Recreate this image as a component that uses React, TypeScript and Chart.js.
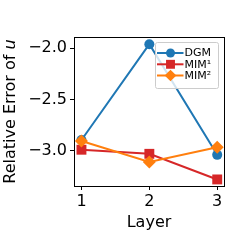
import React, { useEffect, useRef } from "react";
import { Chart, registerables } from "chart.js";

Chart.register(...registerables);

const layers = [1, 2, 3];
const dgm = [-2.895, -1.96, -3.04];
const mim1 = [-2.99, -3.03, -3.28];
const mim2 = [-2.905, -3.11, -2.965];
const yTicks = [-3.0, -2.5, -2.0];
const seriesNames = ["DGM", "MIM\u00b9", "MIM\u00b2"];
const colors = ["#1f77b4", "#d62728", "#ff7f0e"];
const pointStyles = ["circle", "rect", "rectRot"];
const radii = [5, 7, 6.5];

const FONT = "'DejaVu Sans', sans-serif";

function drawMarker(ctx: CanvasRenderingContext2D, style: string, r: number, x: number, y: number) {
  ctx.beginPath();
  if (style === "circle") {
    ctx.arc(x, y, r, 0, Math.PI * 2);
  } else if (style === "rect") {
    const s = r * Math.SQRT1_2;
    ctx.rect(x - s, y - s, 2 * s, 2 * s);
  } else {
    ctx.moveTo(x - r, y);
    ctx.lineTo(x, y - r);
    ctx.lineTo(x + r, y);
    ctx.lineTo(x, y + r);
    ctx.closePath();
  }
  ctx.fill();
}

const decorPlugin = {
  id: "decor",
  afterDraw(chart: any) {
    const ctx = chart.ctx;
    const a = chart.chartArea;
    ctx.save();
    // frame
    ctx.strokeStyle = "#000";
    ctx.lineWidth = 1;
    ctx.strokeRect(Math.round(a.left) + 0.5, Math.round(a.top) + 0.5, Math.round(a.right - a.left), Math.round(a.bottom - a.top));
    // x title
    ctx.fillStyle = "#000";
    ctx.font = `16px ${FONT}`;
    ctx.textAlign = "center";
    ctx.textBaseline = "alphabetic";
    ctx.fillText("Layer", (a.left + a.right) / 2, 226.5);
    // y title
    ctx.save();
    ctx.translate(15, (a.top + a.bottom) / 2);
    ctx.rotate(-Math.PI / 2);
    const p1 = "Relative Error of ";
    const p2 = "u";
    ctx.font = `16px ${FONT}`;
    const w1 = ctx.measureText(p1).width;
    ctx.font = `italic 16px ${FONT}`;
    const w2 = ctx.measureText(p2).width;
    const start = -(w1 + w2) / 2;
    ctx.textAlign = "left";
    ctx.font = `16px ${FONT}`;
    ctx.fillText(p1, start, 0);
    ctx.font = `italic 16px ${FONT}`;
    ctx.fillText(p2, start + w1, 0);
    ctx.restore();
    // legend
    const bx = 155.5, by = 42.5, bw = 63, bh = 46;
    ctx.fillStyle = "rgba(255,255,255,0.8)";
    ctx.strokeStyle = "#cccccc";
    ctx.lineWidth = 1;
    ctx.beginPath();
    (ctx as any).roundRect(bx, by, bw, bh, 2);
    ctx.fill();
    ctx.stroke();
    const rowY = [53, 64.3, 75.5];
    for (let i = 0; i < 3; i++) {
      const y = rowY[i];
      ctx.strokeStyle = colors[i];
      ctx.lineWidth = 2;
      ctx.beginPath();
      ctx.moveTo(157, y);
      ctx.lineTo(183.5, y);
      ctx.stroke();
      ctx.fillStyle = colors[i];
      drawMarker(ctx, pointStyles[i], radii[i] * 0.9, 170.5, y);
      ctx.fillStyle = "#000";
      ctx.font = `11px ${FONT}`;
      ctx.textAlign = "left";
      ctx.textBaseline = "middle";
      ctx.fillText(seriesNames[i], 184.5, y + 0.5);
    }
    ctx.restore();
  },
};

export default function App() {
  const ref = useRef<HTMLCanvasElement>(null);
  useEffect(() => {
    if (!ref.current) return;
    const series = [dgm, mim1, mim2];
    const chart = new Chart(ref.current, {
      type: "line",
      data: {
        datasets: series.map((vals, i) => ({
          label: seriesNames[i],
          data: vals.map((v, j) => ({ x: layers[j], y: v })),
          borderColor: colors[i],
          backgroundColor: colors[i],
          borderWidth: 2,
          pointStyle: pointStyles[i] as any,
          pointRadius: radii[i],
          pointBorderWidth: 0,
          pointHoverRadius: radii[i],
          tension: 0,
          order: 3 - i,
        })),
      },
      options: {
        responsive: false,
        animation: false,
        events: [],
        layout: { padding: { left: 0, top: 37, right: 25, bottom: 0 } },
        plugins: { legend: { display: false }, tooltip: { enabled: false } },
        scales: {
          x: {
            type: "linear",
            min: 0.89,
            max: 3.1,
            afterBuildTicks: (s: any) => {
              s.ticks = layers.map((v) => ({ value: v }));
            },
            afterFit: (s: any) => {
              s.height = 63;
            },
            grid: { drawOnChartArea: false, drawTicks: true, tickLength: 4, color: "#000", tickColor: "#000" },
            border: { display: true, color: "#000", width: 1 },
            ticks: {
              color: "#000",
              padding: 2,
              font: { family: FONT, size: 16 },
              callback: (v: any) => String(v),
              maxRotation: 0,
            },
          },
          y: {
            type: "linear",
            min: -3.344,
            max: -1.89,
            afterBuildTicks: (s: any) => {
              s.ticks = yTicks.map((v) => ({ value: v }));
            },
            afterFit: (s: any) => {
              s.width = 74;
            },
            grid: { drawOnChartArea: false, drawTicks: true, tickLength: 4, color: "#000", tickColor: "#000" },
            border: { display: true, color: "#000", width: 1 },
            ticks: {
              color: "#000",
              padding: 3,
              font: { family: FONT, size: 16 },
              callback: (v: any) => Number(v).toFixed(1).replace("-", "\u2212"),
            },
          },
        },
      },
      plugins: [decorPlugin],
    });
    return () => chart.destroy();
  }, []);
  return (
    <div style={{ position: "fixed", left: 0, top: 0, width: 249, height: 249, background: "#fff" }}>
      <canvas ref={ref} width={249} height={249} style={{ width: 249, height: 249 }} />
    </div>
  );
}
